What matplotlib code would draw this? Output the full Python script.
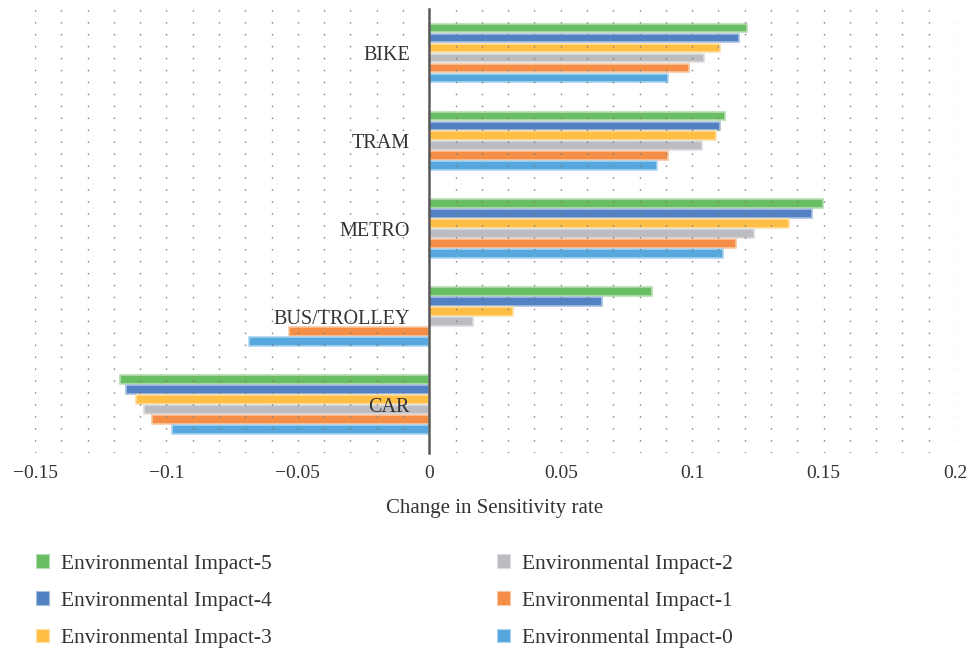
import matplotlib
matplotlib.use('Agg')
import matplotlib.pyplot as plt
import numpy as np
from matplotlib.ticker import MultipleLocator, FixedLocator
from matplotlib.patches import Patch

categories = ['CAR', 'BUS/TROLLEY', 'METRO', 'TRAM', 'BIKE']
series_names = ['Environmental Impact-5', 'Environmental Impact-4', 'Environmental Impact-3',
                'Environmental Impact-2', 'Environmental Impact-1', 'Environmental Impact-0']
ei5 = [-0.1178, 0.0846, 0.1497, 0.1126, 0.1209]
ei4 = [-0.1155, 0.0657, 0.1456, 0.1107, 0.1178]
ei3 = [-0.1115, 0.0318, 0.1368, 0.1089, 0.1107]
ei2 = [-0.1086, 0.0168, 0.1237, 0.1036, 0.1047]
ei1 = [-0.1054, -0.0535, 0.1165, 0.0908, 0.0987]
ei0 = [-0.0977, -0.0687, 0.1116, 0.0867, 0.0907]
series_values = [ei5, ei4, ei3, ei2, ei1, ei0]
colors = ['#69BE64', '#5181C2', '#FFBF45', '#BBBCC0', '#F48E46', '#55A7DD']
edge_colors = ['#B5DDB2', '#A8C0E0', '#FFDFA2', '#DDDDE0', '#F9C6A2', '#AAD3EE']
xtick_values = [-0.15, -0.1, -0.05, 0, 0.05, 0.1, 0.15, 0.2]
xtick_labels = ['\u22120.15', '\u22120.1', '\u22120.05', '0', '0.05', '0.1', '0.15', '0.2']

plt.rcParams['font.family'] = ['Liberation Serif', 'DejaVu Serif']
text_color = '#333333'

fig = plt.figure(figsize=(9.68, 6.52), dpi=100)
ax = fig.add_axes([35/968, 1 - 453/652, (955-35)/968, (453-9)/652])

y = np.arange(len(categories))
pitch = 0.1136
n = len(series_values)
for i, (vals, c, ec) in enumerate(zip(series_values, colors, edge_colors)):
    off = (n - 1) / 2 * pitch - i * pitch
    ax.barh(y + off, vals, height=pitch * 0.88, color=c, edgecolor=ec, linewidth=1.2, zorder=1)

ax.set_xlim(-0.15, 0.2)
ax.set_ylim(-0.55, 4.5)

ax.xaxis.set_major_locator(FixedLocator(xtick_values))
ax.set_xticklabels(xtick_labels)
ax.xaxis.set_minor_locator(MultipleLocator(0.01))
ax.grid(which='both', axis='x', color='#7a7a7a', linestyle=(0, (1.0, 7.6)), linewidth=1.0)
ax.set_axisbelow(False)

ax.set_yticks(y)
ax.set_yticklabels(categories)
ax.tick_params(axis='y', length=0, pad=14, labelsize=14.5, labelcolor=text_color)
ax.tick_params(axis='x', which='both', length=0, pad=9, labelsize=14, labelcolor=text_color)

for s in ['top', 'right', 'bottom']:
    ax.spines[s].set_visible(False)
ax.spines['left'].set_position(('data', 0))
ax.spines['left'].set_color('#5a5a5a')
ax.spines['left'].set_linewidth(1.8)
ax.spines['left'].set_zorder(4)

ax.set_xlabel('Change in Sensitivity rate', fontsize=15, color=text_color, labelpad=12)

handles = [Patch(facecolor=c, edgecolor=ec, linewidth=0.8) for c, ec in zip(colors, edge_colors)]
fig.legend(handles, series_names, loc='upper left', bbox_to_anchor=(17/968, 1 - 535/652),
           ncol=2, frameon=False, fontsize=15.5, labelcolor=text_color,
           handlelength=0.6, handleheight=0.6, handletextpad=0.55,
           columnspacing=10.45, labelspacing=0.82)

fig.savefig('out.png', dpi=100)
